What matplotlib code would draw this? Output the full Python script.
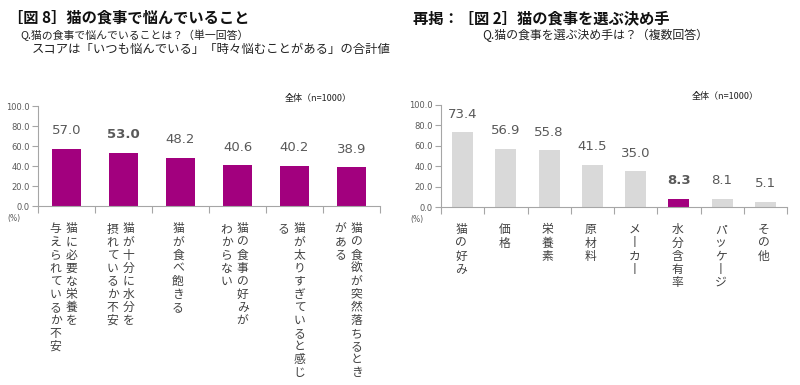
import matplotlib
matplotlib.use("Agg")
from matplotlib import pyplot as plt

plt.rcParams['font.family'] = ['Noto Sans CJK JP', 'DejaVu Sans']

# left chart data: worries about cat food (labels split into vertical columns, right to left)
worry_labels = [["猫に必要な栄養を", "与えられているか不安"],
                ["猫が十分に水分を", "摂れているか不安"],
                ["猫が食べ飽きる"],
                ["猫の食事の好みが", "わからない"],
                ["猫が太りすぎていると感じ", "る"],
                ["猫の食欲が突然落ちるとき", "がある"]]
worry_values = [57.0, 53.0, 48.2, 40.6, 40.2, 38.9]
worry_bold = 1

# right chart data: deciding factor when choosing cat food
choice_labels = ["猫の好み", "価格", "栄養素", "原材料", "メーカー", "水分含有率", "パッケージ", "その他"]
choice_values = [73.4, 56.9, 55.8, 41.5, 35.0, 8.3, 8.1, 5.1]
choice_bold = 5

yticks = [0, 20, 40, 60, 80, 100]

MAGENTA = '#A2007E'
LIGHT = '#D9D9D9'
AXIS = '#A6A6A6'
TXT = '#404040'
NUM = '#595959'

PITCH = 9.4    # points between stacked characters
FIRST = 16.5   # points from axis line to centre of first character


def vertical_label(ax, i, text, dx):
    # write a label top to bottom, one character at a time, long vowel mark upright
    for k, ch in enumerate(text.replace('ー', '丨')):
        ax.annotate(ch, xy=(i, 0), xytext=(dx * 0.72, -FIRST - k * PITCH),
                    textcoords='offset points', ha='center', va='center',
                    fontsize=8.5, color=TXT)


def setup_axes(ax, n):
    ax.set_xlim(-0.5, n - 0.5)
    ax.set_ylim(0, 100)
    for side in ['top', 'right']:
        ax.spines[side].set_visible(False)
    for side in ['left', 'bottom']:
        ax.spines[side].set_color(AXIS)
        ax.spines[side].set_linewidth(0.8)
    ax.set_yticks(yticks)
    ax.set_yticklabels(['%.1f' % v for v in yticks], fontsize=6, color=NUM, family='DejaVu Sans')
    ax.tick_params(axis='y', length=4, width=0.8, color=AXIS, pad=2)
    ax.set_xticks([i - 0.5 for i in range(n + 1)])
    ax.set_xticklabels([])
    ax.tick_params(axis='x', length=5, width=0.8, color=AXIS)
    ax.text(-0.07, -0.12, '(%)', transform=ax.transAxes, fontsize=5.5, color=NUM,
            family='DejaVu Sans', ha='center', va='center')
    ax.text(0.82, 1.08, '全体（n=1000）', transform=ax.transAxes, fontsize=6.5,
            color='#222222', ha='center', va='center')


def value_labels(ax, values, bold):
    for i, v in enumerate(values):
        ax.annotate('%.1f' % v, xy=(i, v), xytext=(0, 13), textcoords='offset points',
                    ha='center', va='center', fontsize=9.5, family='DejaVu Sans',
                    color=NUM, fontweight='bold' if i == bold else 'normal')


fig = plt.figure(figsize=(8, 3.85), dpi=100)

# ---- left chart ----
ax1 = fig.add_axes([0.0475, 0.4649, 0.4275, 0.2597])
setup_axes(ax1, len(worry_values))
ax1.bar(range(len(worry_values)), worry_values, width=0.51, color=MAGENTA)
value_labels(ax1, worry_values, worry_bold)
for i, cols in enumerate(worry_labels):
    if len(cols) == 1:
        offsets = [-2.5]
    else:
        offsets = [5, -11]
    for col, dx in zip(cols, offsets):
        vertical_label(ax1, i, col, dx)

fig.text(8 / 800, 1 - 18 / 385, '［図 8］猫の食事で悩んでいること', fontsize=11,
         fontweight='bold', color='#111111', ha='left', va='center')
fig.text(20 / 800, 1 - 35 / 385, 'Q.猫の食事で悩んでいることは？（単一回答）', fontsize=7.8,
         color='#222222', ha='left', va='center')
fig.text(32 / 800, 1 - 50 / 385, 'スコアは「いつも悩んでいる」「時々悩むことがある」の合計値',
         fontsize=8.9, color='#222222', ha='left', va='center')

# ---- right chart ----
ax2 = fig.add_axes([0.55125, 0.4623, 0.4325, 0.265])
setup_axes(ax2, len(choice_values))
colors = [MAGENTA if i == choice_bold else LIGHT for i in range(len(choice_values))]
ax2.bar(range(len(choice_values)), choice_values, width=0.49, color=colors)
value_labels(ax2, choice_values, choice_bold)
for i, lab in enumerate(choice_labels):
    vertical_label(ax2, i, lab, -1.5)

fig.text(413 / 800, 1 - 18 / 385, '再掲：［図 2］猫の食事を選ぶ決め手', fontsize=11,
         fontweight='bold', color='#111111', ha='left', va='center')
fig.text(482 / 800, 1 - 35 / 385, 'Q.猫の食事を選ぶ決め手は？（複数回答）', fontsize=8.6,
         color='#222222', ha='left', va='center')

fig.savefig('out.png', dpi=100)
